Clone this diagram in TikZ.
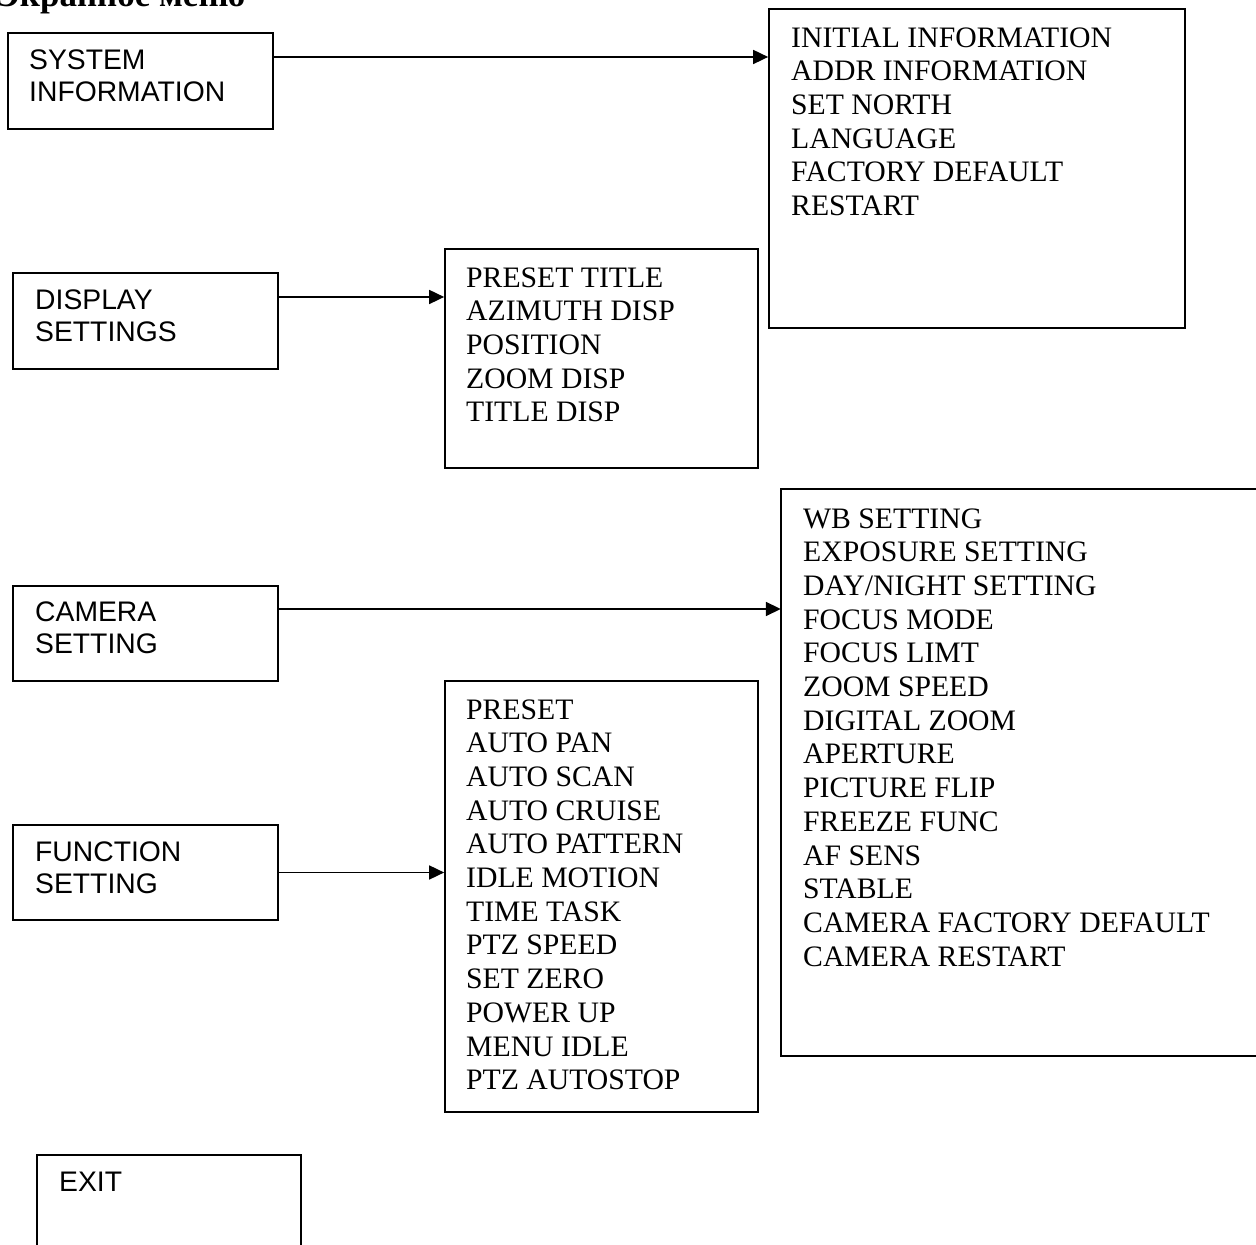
\documentclass[tikz,border=0pt]{standalone}
\usepackage{fontspec}
\setmainfont{Liberation Serif}
\newfontfamily\sansf{Liberation Sans}
\usetikzlibrary{arrows.meta}
\tikzset{
  box/.style={draw, line width=1.7pt, rectangle, inner sep=0pt},
  openbox/.style={rectangle, inner sep=0pt},
  edge/.style={line width=1.7pt},
  arr/.style={line width=1.7pt, -{Triangle[length=15pt,width=14pt]}},
  stxt/.style={anchor=north west, inner sep=0pt, align=left, font=\sansf\fontsize{28.3}{32}\selectfont},
  ltxt/.style={anchor=north west, inner sep=0pt, align=left, font=\fontsize{29.7}{33.7}\selectfont},
}
\begin{document}
\begin{tikzpicture}[x=1pt,y=1pt]
\useasboundingbox (0,0) rectangle (1256,1245);
% title (cropped at top)
\node[anchor=base west, inner sep=0pt, font=\bfseries\fontsize{35}{40}\selectfont] (title) at (-4,1238.5) {Экранное меню};
% left boxes
\node[box, minimum width=265pt, minimum height=96pt] (sys) at (140.5,1164) {};
\node[box, minimum width=265pt, minimum height=96pt] (disp) at (145.5,924) {};
\node[box, minimum width=265pt, minimum height=95pt] (cam) at (145.5,611.5) {};
\node[box, minimum width=265pt, minimum height=95pt] (func) at (145.5,372.5) {};
\node[openbox, minimum width=264pt, minimum height=90pt] (exit) at (169,45) {};
\draw[edge] (exit.south west) -- (exit.north west) -- (exit.north east) -- (exit.south east);
% right boxes
\node[box, minimum width=416pt, minimum height=319pt] (init) at (977,1076.5) {};
\node[box, minimum width=313pt, minimum height=219pt] (displ) at (601.5,886.5) {};
\node[box, minimum width=313pt, minimum height=431pt] (funcl) at (601.5,348.5) {};
\node[openbox, minimum width=475pt, minimum height=567pt] (caml) at (1018.5,472.5) {};
\draw[edge] (caml.north east) -- (caml.north west) -- (caml.south west) -- (caml.south east);
% texts in left boxes
\node[stxt] (systxt) at (29,1195) {SYSTEM\\INFORMATION};
\node[stxt] (disptxt) at (35,955) {DISPLAY\\SETTINGS};
\node[stxt] (camtxt) at (35,643) {CAMERA\\SETTING};
\node[stxt] (functxt) at (35,403) {FUNCTION\\SETTING};
\node[stxt] (exittxt) at (59,73) {EXIT};
% list texts
\node[ltxt] (inittxt) at (791,1217.8) {INITIAL INFORMATION\\ADDR INFORMATION\\SET NORTH\\LANGUAGE\\FACTORY DEFAULT\\RESTART};
\node[ltxt] (disptxtl) at (466,977.8) {PRESET TITLE\\AZIMUTH DISP\\POSITION\\ZOOM DISP\\TITLE DISP};
\node[ltxt] (camtxtl) at (803,736.8) {WB SETTING\\EXPOSURE SETTING\\DAY/NIGHT SETTING\\FOCUS MODE\\FOCUS LIMT\\ZOOM SPEED\\DIGITAL ZOOM\\APERTURE\\PICTURE FLIP\\FREEZE FUNC\\AF SENS\\STABLE\\CAMERA FACTORY DEFAULT\\CAMERA RESTART};
\node[ltxt] (functxtl) at (466,545.8) {PRESET\\AUTO PAN\\AUTO SCAN\\AUTO CRUISE\\AUTO PATTERN\\IDLE MOTION\\TIME TASK\\PTZ SPEED\\SET ZERO\\POWER UP\\MENU IDLE\\PTZ AUTOSTOP};
% connectors
\coordinate (a1) at ([yshift=24pt]sys.east);
\coordinate (a2) at ([yshift=24pt]disp.east);
\coordinate (a3) at ([yshift=24.5pt]cam.east);
\draw[arr] (a1) -- (a1 -| init.west);
\draw[arr] (a2) -- (a2 -| displ.west);
\draw[arr] (a3) -- (a3 -| caml.west);
\draw[arr] (func.east) -- (func.east -| funcl.west);
\end{tikzpicture}
\end{document}
